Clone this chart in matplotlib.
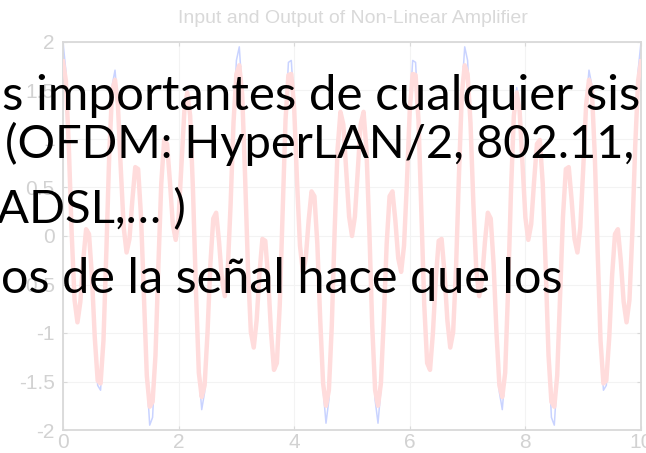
import matplotlib
matplotlib.use("Agg")
import matplotlib.pyplot as plt
from matplotlib.ticker import FormatStrFormatter, MultipleLocator
import numpy as np

plt.rcParams["axes.unicode_minus"] = False

# muestreo de la señal (paso de 0.05 s, de 0 a 10)
t_step = 0.05

# entrada al amplificador
input_signal = [
    2.00, 1.70, 0.93, 0.03, -0.66, -0.89, -0.68, -0.25, 0.07, 0.02,
    -0.41, -1.05, -1.54, -1.59, -1.08, -0.16, 0.84, 1.55, 1.71, 1.35,
    0.69, 0.09, -0.17, -0.03, 0.37, 0.71, 0.69, 0.20, -0.62, -1.46,
    -1.95, -1.87, -1.23, -0.31, 0.54, 0.99, 0.95, 0.56, 0.12, -0.04,
    0.19, 0.73, 1.29, 1.53, 1.24, 0.45, -0.56, -1.42, -1.79, -1.61,
    -1.00, -0.29, 0.18, 0.24, -0.06, -0.45, -0.62, -0.35, 0.33, 1.17,
    1.81, 1.95, 1.49, 0.62, -0.33, -0.99, -1.15, -0.87, -0.38, -0.03,
    -0.05, -0.44, -1.00, -1.38, -1.31, -0.71, 0.25, 1.20, 1.79, 1.81,
    1.31, 0.55, -0.10, -0.37, -0.23, 0.16, 0.46, 0.41, -0.08, -0.86,
    -1.58, -1.93, -1.69, -0.93, 0.06, 0.89, 1.28, 1.15, 0.68, 0.20,
    0.00,
    0.20, 0.68, 1.15, 1.28, 0.89, 0.06, -0.93, -1.69, -1.93, -1.58,
    -0.86, -0.08, 0.41, 0.46, 0.16, -0.23, -0.37, -0.10, 0.55, 1.31,
    1.81, 1.79, 1.20, 0.25, -0.71, -1.31, -1.38, -1.00, -0.44, -0.05,
    -0.03, -0.38, -0.87, -1.15, -0.99, -0.33, 0.62, 1.49, 1.95, 1.81,
    1.17, 0.33, -0.35, -0.62, -0.45, -0.06, 0.24, 0.18, -0.29, -1.00,
    -1.61, -1.79, -1.42, -0.56, 0.45, 1.24, 1.53, 1.29, 0.73, 0.19,
    -0.04, 0.12, 0.56, 0.95, 0.99, 0.54, -0.31, -1.23, -1.87, -1.95,
    -1.46, -0.62, 0.20, 0.69, 0.71, 0.37, -0.03, -0.17, 0.09, 0.69,
    1.35, 1.71, 1.55, 0.84, -0.16, -1.08, -1.59, -1.54, -1.05, -0.41,
    0.02, 0.07, -0.25, -0.68, -0.89, -0.66, 0.03, 0.93, 1.70, 2.00,
]

# salida del amplificador no lineal (picos comprimidos)
output_signal = [
    1.80, 1.60, 0.93, 0.03, -0.66, -0.89, -0.68, -0.25, 0.07, 0.02,
    -0.41, -1.05, -1.49, -1.52, -1.08, -0.16, 0.84, 1.50, 1.61, 1.35,
    0.69, 0.09, -0.17, -0.03, 0.37, 0.71, 0.69, 0.20, -0.62, -1.44,
    -1.76, -1.71, -1.23, -0.31, 0.54, 0.99, 0.95, 0.56, 0.12, -0.04,
    0.19, 0.73, 1.29, 1.48, 1.24, 0.45, -0.56, -1.41, -1.66, -1.54,
    -1.00, -0.29, 0.18, 0.24, -0.06, -0.45, -0.62, -0.35, 0.33, 1.17,
    1.67, 1.76, 1.46, 0.62, -0.33, -0.99, -1.15, -0.87, -0.38, -0.03,
    -0.05, -0.44, -1.00, -1.38, -1.31, -0.71, 0.25, 1.20, 1.66, 1.67,
    1.31, 0.55, -0.10, -0.37, -0.23, 0.16, 0.46, 0.41, -0.08, -0.86,
    -1.52, -1.75, -1.59, -0.93, 0.06, 0.89, 1.28, 1.15, 0.68, 0.20,
    0.00,
    0.20, 0.68, 1.15, 1.28, 0.89, 0.06, -0.93, -1.59, -1.75, -1.52,
    -0.86, -0.08, 0.41, 0.46, 0.16, -0.23, -0.37, -0.10, 0.55, 1.31,
    1.67, 1.66, 1.20, 0.25, -0.71, -1.31, -1.38, -1.00, -0.44, -0.05,
    -0.03, -0.38, -0.87, -1.15, -0.99, -0.33, 0.62, 1.46, 1.76, 1.67,
    1.17, 0.33, -0.35, -0.62, -0.45, -0.06, 0.24, 0.18, -0.29, -1.00,
    -1.54, -1.66, -1.41, -0.56, 0.45, 1.24, 1.48, 1.29, 0.73, 0.19,
    -0.04, 0.12, 0.56, 0.95, 0.99, 0.54, -0.31, -1.23, -1.71, -1.76,
    -1.44, -0.62, 0.20, 0.69, 0.71, 0.37, -0.03, -0.17, 0.09, 0.69,
    1.35, 1.61, 1.50, 0.84, -0.16, -1.08, -1.52, -1.49, -1.05, -0.41,
    0.02, 0.07, -0.25, -0.68, -0.89, -0.66, 0.03, 0.93, 1.60, 1.80,
]

# texto de la diapositiva que tapa la gráfica (lo que se ve del recorte)
slide_lines = [
    "s importantes de cualquier sis",
    "(OFDM: HyperLAN/2, 802.11,",
    "ADSL,… )",
    "os de la señal hace que los",
]

t = np.arange(len(input_signal)) * t_step

fig = plt.figure(figsize=(6.46, 4.53), dpi=100)
ax = fig.add_axes([63 / 646, 23 / 453, 578 / 646, 388 / 453])

ax.plot(t, input_signal, color="#c9d3ff", lw=1.1, zorder=2)
ax.plot(t, output_signal, color="#ffdcdc", lw=3.2, zorder=3)

ax.set_xlim(0, 10)
ax.set_ylim(-2, 2)
ax.xaxis.set_major_locator(MultipleLocator(2))
ax.yaxis.set_major_locator(MultipleLocator(0.5))
ax.xaxis.set_major_formatter(FormatStrFormatter("%g"))
ax.yaxis.set_major_formatter(FormatStrFormatter("%g"))
ax.grid(True, color="#f3f3f3", lw=0.8)
ax.set_axisbelow(True)
for s in ax.spines.values():
    s.set_color("#d9d9d9")
    s.set_linewidth(1.3)
ax.tick_params(direction="in", length=3, width=0.8, color="#d9d9d9",
               top=True, right=True, labelsize=15, labelcolor="#d2d2d2", pad=2,
               labelfontfamily="Liberation Sans")
ax.tick_params(axis="y", pad=6)

fig.text(353 / 646, 1 - 23 / 453, "Input and Output of Non-Linear Amplifier",
         ha="center", fontsize=14, color="#d9d9d9", family="Liberation Sans")

# renglones de texto: (x en px, línea base en px, tamaño)
text_x = [2, 5, -3, 1]
text_base = [110, 158, 223, 293]
text_size = [35.5, 33.8, 34, 35]
for line, x0, y0, fs in zip(slide_lines, text_x, text_base, text_size):
    fig.text(x0 / 646, 1 - y0 / 453, line, fontsize=fs,
             family="Lato", color="black")

fig.savefig("out.png", dpi=100, facecolor="white")
